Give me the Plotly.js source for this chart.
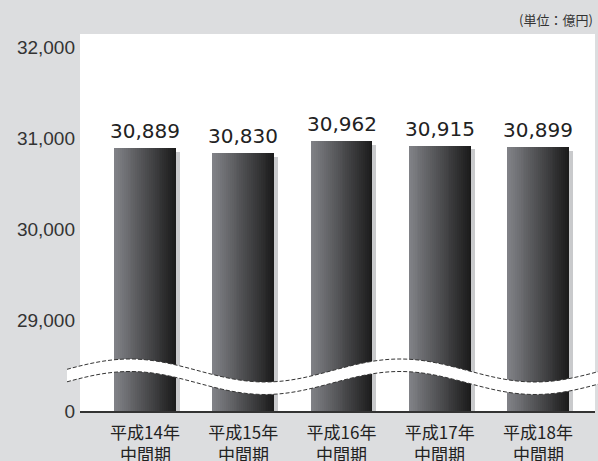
<!DOCTYPE html>
<html>
<head>
<meta charset="utf-8">
<script src="https://cdn.plot.ly/plotly-3.0.1.min.js"></script>
<style>html,body{margin:0;padding:0;background:#dcdddf;}#chart{width:598px;height:461px;}</style>
</head>
<body>
<div id="chart"></div>
<script>
// ---- data ----
const categories = ['平成14年', '平成15年', '平成16年', '平成17年', '平成18年'];
const periodSuffix = '中間期';
const values = [30889, 30830, 30962, 30915, 30899];
const yTickVals = [28000, 29000, 30000, 31000, 32000];
const yTickText = ['0', '29,000', '30,000', '31,000', '32,000'];
const unitLabel = '(単位：億円)';

// ---- geometry / style ----
const W = 598, H = 461;
const M = {l: 80, r: 3, t: 34, b: 50};
const PW = W - M.l - M.r, PH = H - M.t - M.b;
const axisBase = 28000;
const barWidth = 0.63;
const shadowShift = 0.04;
const shadowDrop = 40;
const N = 32;
const cL = [130, 131, 136], cR = [26, 26, 26];

const traces = [];
// shadow
traces.push({
  type: 'bar', x: categories, y: values.map(v => v - axisBase - shadowDrop), base: axisBase,
  width: barWidth, offset: -barWidth / 2 + shadowShift,
  marker: {color: '#c9cacc', line: {width: 0}}, hoverinfo: 'skip', showlegend: false
});
// gradient strips
const step = barWidth / N;
for (let i = 0; i < N; i++) {
  const t = (i + 0.5) / N;
  const c = cL.map((a, k) => Math.round(a + (cR[k] - a) * t));
  traces.push({
    type: 'bar', x: categories, y: values.map(v => v - axisBase), base: axisBase,
    width: i === N - 1 ? step : step * 1.6, offset: -barWidth / 2 + i * step,
    marker: {color: `rgb(${c[0]},${c[1]},${c[2]})`, line: {width: 0}},
    hoverinfo: 'skip', showlegend: false
  });
}

const px2x = x => (x - M.l) / PW;
const py2y = y => (H - M.b - y) / PH;

// value labels (annotations anchored at bar tops)
const valueLabels = values.map((v, i) => ({
  x: categories[i], y: v, xref: 'x', yref: 'y',
  text: v.toLocaleString('en-US'), showarrow: false,
  xanchor: 'center', yanchor: 'bottom', yshift: 3,
  font: {family: 'DejaVu Sans', size: 20, color: '#222'}
}));
// second line of category labels
const suffixLabels = categories.map(c => ({
  x: c, y: py2y(453), xref: 'x', yref: 'paper',
  text: periodSuffix, showarrow: false, xanchor: 'center', yanchor: 'middle',
  font: {family: 'Noto Sans CJK JP', size: 17, color: '#222'}
}));

// axis-break band (decoration)
const yTop = x => 370.5 - 11.5 * Math.cos(2 * Math.PI * (x - 130) / 270);
const bandH = 12.5;
const xs = [];
for (let x = 67; x <= 598; x += 3) xs.push(x);
const topPts = xs.map(x => `${px2x(x).toFixed(5)},${py2y(yTop(x)).toFixed(5)}`);
const botPts = xs.map(x => `${px2x(x).toFixed(5)},${py2y(yTop(x) + bandH).toFixed(5)}`);
const bandPath = 'M' + topPts.join(' L') + ' L' + botPts.slice().reverse().join(' L') + ' Z';
const topLine = 'M' + topPts.join(' L');
const botLine = 'M' + botPts.join(' L');

const layout = {
  width: W, height: H,
  margin: M,
  paper_bgcolor: '#dcdddf', plot_bgcolor: '#ffffff',
  barmode: 'overlay', bargap: 0,
  hovermode: false,
  xaxis: {
    type: 'category', range: [-0.6616, 4.58], fixedrange: true,
    showline: true, linecolor: '#333', linewidth: 1.5, ticks: '',
    showgrid: false, zeroline: false, ticklabelstandoff: 6,
    tickfont: {family: 'Noto Sans CJK JP', size: 17, color: '#222'}
  },
  yaxis: {
    range: [28000, 32143], tickvals: yTickVals, ticktext: yTickText,
    showline: false, showgrid: false, zeroline: false, ticks: '', fixedrange: true,
    tickfont: {family: 'Liberation Sans', size: 19, color: '#333'}, ticklabelstandoff: 4
  },
  shapes: [
    {type: 'path', xref: 'paper', yref: 'paper', path: bandPath, fillcolor: '#ffffff', line: {width: 0}, layer: 'above'},
    {type: 'path', xref: 'paper', yref: 'paper', path: topLine, line: {color: '#333', width: 1, dash: '4px,2px'}, layer: 'above'},
    {type: 'path', xref: 'paper', yref: 'paper', path: botLine, line: {color: '#333', width: 1, dash: '4px,2px'}, layer: 'above'}
  ],
  annotations: valueLabels.concat(suffixLabels, [{
    text: unitLabel, xref: 'paper', yref: 'paper', x: (W - 3 - M.l) / PW, y: py2y(19),
    xanchor: 'right', yanchor: 'middle', showarrow: false,
    font: {family: 'Noto Sans CJK JP', size: 13, color: '#333'}
  }])
};

Plotly.newPlot('chart', traces, layout, {displayModeBar: false, staticPlot: true});
</script>
</body>
</html>
